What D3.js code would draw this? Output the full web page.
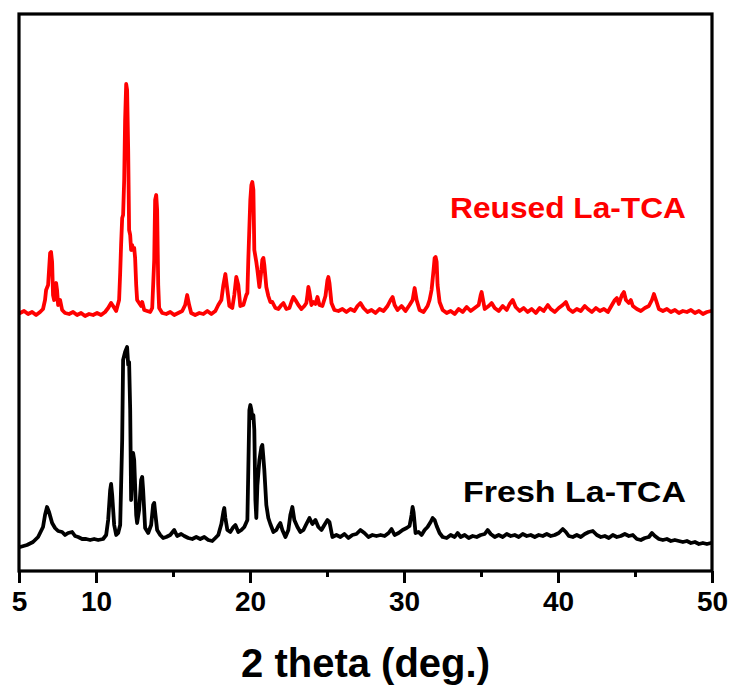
<!DOCTYPE html>
<html>
<head>
<meta charset="utf-8">
<script src="https://cdn.jsdelivr.net/npm/d3@7"></script>
<style>
  html, body { margin: 0; padding: 0; background: #fff; }
  svg { display: block; }
  text { font-family: "Liberation Sans", Arial, Helvetica, sans-serif; font-weight: bold; }
</style>
</head>
<body>
<script>
// Powder XRD patterns, [2θ (deg), intensity (a.u.)]
const freshPattern = [
  [5.07,24],[5.52,26],[5.91,29],[6.24,34],[6.56,44],[6.69,56],[6.82,64],[6.95,59],[7.15,48],[7.34,43],
  [7.54,40],[7.80,39],[7.99,36],[8.19,38],[8.45,39],[8.64,35],[8.84,34],[9.10,32],[9.36,32],[9.62,31],
  [9.88,32],[10.14,31],[10.46,32],[10.66,36],[10.79,51],[10.92,81],[10.98,87],[11.05,76],[11.18,46],[11.31,36],
  [11.44,38],[11.57,46],[11.70,131],[11.76,211],[11.89,219],[12.02,224],[12.09,206],[12.15,209],[12.22,161],[12.28,71],
  [12.35,101],[12.41,118],[12.48,111],[12.61,56],[12.67,48],[12.80,61],[12.93,91],[13.00,94],[13.06,81],[13.19,43],
  [13.39,38],[13.58,46],[13.71,66],[13.78,68],[13.84,59],[13.97,41],[14.17,36],[14.36,33],[14.56,34],[14.82,36],
  [15.08,41],[15.27,35],[15.53,37],[15.73,35],[15.99,33],[16.25,32],[16.51,34],[16.77,32],[17.03,34],[17.29,31],
  [17.55,30],[17.75,33],[17.94,36],[18.14,47],[18.27,59],[18.33,63],[18.40,53],[18.53,41],[18.72,39],[18.92,44],
  [19.05,46],[19.24,39],[19.44,41],[19.63,44],[19.83,51],[19.89,101],[19.96,161],[20.02,166],[20.09,161],[20.15,153],
  [20.22,156],[20.28,141],[20.35,71],[20.41,53],[20.48,86],[20.61,111],[20.74,124],[20.80,126],[20.87,113],[20.93,101],
  [21.06,66],[21.19,53],[21.32,47],[21.52,39],[21.71,41],[21.84,45],[21.97,48],[22.10,41],[22.30,34],[22.49,41],
  [22.62,56],[22.75,64],[22.88,51],[23.08,44],[23.27,39],[23.47,41],[23.66,47],[23.86,53],[24.05,47],[24.25,51],
  [24.44,44],[24.64,41],[24.83,46],[25.03,51],[25.16,49],[25.35,34],[25.61,36],[25.87,34],[26.13,37],[26.39,33],
  [26.65,36],[26.91,37],[27.17,41],[27.43,38],[27.69,34],[27.95,36],[28.21,35],[28.48,36],[28.74,35],[29.00,38],
  [29.19,42],[29.39,36],[29.65,38],[29.91,41],[30.17,43],[30.36,45],[30.49,56],[30.56,64],[30.62,59],[30.75,38],
  [30.95,39],[31.14,36],[31.34,41],[31.53,44],[31.73,49],[31.86,53],[31.99,51],[32.12,45],[32.31,38],[32.51,34],
  [32.77,33],[33.03,36],[33.29,34],[33.48,38],[33.68,34],[33.94,36],[34.20,33],[34.46,35],[34.72,34],[34.98,36],
  [35.24,37],[35.43,41],[35.63,37],[35.89,34],[36.15,36],[36.41,34],[36.67,37],[36.93,35],[37.19,36],[37.45,34],
  [37.71,37],[37.97,35],[38.23,36],[38.49,34],[38.75,36],[39.01,35],[39.27,37],[39.53,35],[39.79,36],[40.05,38],
  [40.31,42],[40.51,39],[40.70,35],[40.96,34],[41.22,36],[41.48,34],[41.74,37],[42.00,39],[42.26,40],[42.52,36],
  [42.78,34],[43.04,35],[43.30,33],[43.56,36],[43.82,34],[44.08,35],[44.34,37],[44.60,35],[44.86,36],[45.12,32],
  [45.38,31],[45.64,33],[45.90,34],[46.10,38],[46.29,35],[46.55,32],[46.81,31],[47.07,32],[47.33,30],[47.59,31],
  [47.85,30],[48.11,29],[48.37,30],[48.63,28],[48.89,29],[49.15,27],[49.41,28],[49.67,27],[49.93,28]
];

const reusedPattern = [
  [5.07,28],[5.33,30],[5.59,27],[5.85,29],[6.11,26],[6.37,29],[6.56,32],[6.69,41],[6.76,51],[6.89,56],
  [7.02,88],[7.08,89],[7.15,79],[7.21,46],[7.28,41],[7.34,53],[7.41,58],[7.47,51],[7.54,36],[7.67,41],
  [7.80,31],[7.99,28],[8.25,27],[8.51,29],[8.77,26],[9.03,28],[9.29,25],[9.55,27],[9.81,26],[10.07,28],
  [10.33,26],[10.59,29],[10.79,33],[10.98,38],[11.11,35],[11.31,30],[11.50,41],[11.57,68],[11.63,96],[11.70,123],
  [11.76,126],[11.83,161],[11.89,221],[11.96,257],[12.02,251],[12.09,191],[12.15,111],[12.22,106],[12.28,91],[12.35,96],
  [12.41,91],[12.48,93],[12.54,83],[12.61,56],[12.67,41],[12.80,38],[12.93,35],[13.00,39],[13.13,31],[13.32,30],
  [13.52,29],[13.65,33],[13.78,81],[13.84,141],[13.91,146],[13.97,131],[14.04,56],[14.10,33],[14.30,28],[14.56,27],
  [14.82,29],[15.08,26],[15.34,28],[15.60,30],[15.79,36],[15.92,46],[16.05,36],[16.18,28],[16.44,26],[16.71,28],
  [16.97,27],[17.23,30],[17.49,27],[17.75,30],[17.94,36],[18.14,41],[18.27,56],[18.40,67],[18.53,51],[18.66,35],
  [18.85,33],[18.98,46],[19.11,64],[19.24,56],[19.37,35],[19.57,36],[19.76,46],[19.83,48],[19.89,81],[19.96,114],
  [20.02,141],[20.09,156],[20.15,159],[20.22,151],[20.28,91],[20.41,79],[20.48,71],[20.61,54],[20.74,71],[20.80,81],
  [20.87,83],[20.93,76],[21.06,54],[21.19,45],[21.32,39],[21.45,39],[21.65,33],[21.84,32],[22.04,36],[22.17,38],
  [22.36,32],[22.56,33],[22.69,39],[22.82,44],[22.95,41],[23.14,36],[23.34,32],[23.53,35],[23.66,38],[23.73,46],
  [23.79,54],[23.86,49],[23.99,36],[24.12,39],[24.25,37],[24.38,44],[24.51,36],[24.70,35],[24.90,45],[25.03,61],
  [25.09,64],[25.16,58],[25.29,38],[25.48,31],[25.74,30],[26.00,32],[26.26,29],[26.52,32],[26.78,30],[26.98,35],
  [27.17,38],[27.37,33],[27.63,29],[27.89,31],[28.15,28],[28.41,32],[28.67,30],[28.93,35],[29.13,41],[29.26,44],
  [29.39,36],[29.58,31],[29.84,35],[30.10,30],[30.36,36],[30.56,41],[30.69,53],[30.82,41],[31.01,31],[31.27,29],
  [31.53,35],[31.66,41],[31.79,51],[31.92,71],[31.99,83],[32.05,84],[32.12,79],[32.18,56],[32.31,39],[32.51,31],
  [32.77,28],[33.03,30],[33.29,27],[33.55,32],[33.81,29],[34.07,34],[34.33,30],[34.59,33],[34.85,36],[34.98,46],
  [35.04,49],[35.11,43],[35.24,32],[35.50,35],[35.69,38],[35.89,33],[36.15,30],[36.41,35],[36.67,31],[36.86,37],
  [37.06,41],[37.25,34],[37.51,30],[37.77,33],[38.03,29],[38.29,32],[38.56,28],[38.81,33],[39.07,30],[39.34,36],
  [39.53,32],[39.79,29],[40.05,33],[40.31,36],[40.51,39],[40.70,32],[40.96,29],[41.22,32],[41.48,30],[41.74,35],
  [41.94,32],[42.20,29],[42.46,33],[42.72,30],[42.98,32],[43.24,29],[43.50,36],[43.69,41],[43.82,43],[43.95,37],
  [44.15,46],[44.28,49],[44.41,41],[44.60,38],[44.73,41],[44.86,35],[45.12,32],[45.38,30],[45.64,33],[45.90,35],
  [46.10,41],[46.23,47],[46.36,41],[46.55,32],[46.81,30],[47.07,32],[47.33,29],[47.59,31],[47.85,28],[48.11,30],
  [48.37,29],[48.63,31],[48.89,28],[49.15,30],[49.41,27],[49.67,29],[49.93,30]
];

// vertical stacking offset for the upper pattern (a.u.)
const reusedOffset = 230;

const majorTicks = [5, 10, 20, 30, 40, 50];
const minorTicks = [15, 25, 35, 45];

const seriesNames = ["Fresh La-TCA", "Reused La-TCA"];
const seriesColors = ["#000000", "#ff0000"];

const xLabel = "2 theta (deg.)";

const W = 730, H = 687;
const margin = { left: 19, right: 18, top: 14, bottom: 116 };

const svg = d3.select("body").append("svg")
  .attr("width", W).attr("height", H);

const x = d3.scaleLinear().domain([5, 50]).range([margin.left, W - margin.right]);
const y = d3.scaleLinear().domain([0, 557]).range([H - margin.bottom, margin.top]);

const line = d3.line()
  .x(d => x(d[0]))
  .y(d => y(d[1]))
  .curve(d3.curveLinear);

const plot = svg.append("g");

// lower trace
plot.append("path")
  .datum(freshPattern)
  .attr("fill", "none")
  .attr("stroke", seriesColors[0])
  .attr("stroke-width", 3.8)
  .attr("stroke-linejoin", "round")
  .attr("stroke-linecap", "round")
  .attr("d", line);

// upper trace, shifted up
plot.append("path")
  .datum(reusedPattern.map(d => [d[0], d[1] + reusedOffset]))
  .attr("fill", "none")
  .attr("stroke", seriesColors[1])
  .attr("stroke-width", 3.8)
  .attr("stroke-linejoin", "round")
  .attr("stroke-linecap", "round")
  .attr("d", line);

// frame
svg.append("rect")
  .attr("x", x(5)).attr("y", y(557))
  .attr("width", x(50) - x(5)).attr("height", y(0) - y(557))
  .attr("fill", "none").attr("stroke", "#000").attr("stroke-width", 3.2);

// bottom axis: major ticks with labels
const axisMajor = svg.append("g")
  .attr("transform", `translate(0,${y(0)})`)
  .call(d3.axisBottom(x).tickValues(majorTicks).tickSize(12).tickPadding(6).tickFormat(d3.format("d")));
axisMajor.select(".domain").remove();
axisMajor.selectAll(".tick line").attr("stroke", "#000").attr("stroke-width", 3);
axisMajor.selectAll(".tick text")
  .attr("fill", "#000")
  .attr("dy", null)
  .attr("y", 40)
  .style("font-size", "28px")
  .style("font-family", "'Liberation Sans', Arial, sans-serif")
  .style("font-weight", "bold");

// minor ticks
const axisMinor = svg.append("g")
  .attr("transform", `translate(0,${y(0)})`)
  .call(d3.axisBottom(x).tickValues(minorTicks).tickSize(6).tickFormat(""));
axisMinor.select(".domain").remove();
axisMinor.selectAll(".tick line").attr("stroke", "#000").attr("stroke-width", 3);

// axis title
svg.append("text")
  .attr("x", (x(5) + x(50)) / 2)
  .attr("y", 677)
  .attr("text-anchor", "middle")
  .attr("fill", "#000")
  .style("font-size", "40px")
  .text(xLabel);

// series labels
svg.append("text")
  .attr("x", 686).attr("y", 218)
  .attr("text-anchor", "end")
  .attr("fill", seriesColors[1])
  .style("font-size", "30px")
  .attr("textLength", 236).attr("lengthAdjust", "spacingAndGlyphs")
  .text(seriesNames[1]);

svg.append("text")
  .attr("x", 686).attr("y", 502)
  .attr("text-anchor", "end")
  .attr("fill", seriesColors[0])
  .style("font-size", "30px")
  .attr("textLength", 223).attr("lengthAdjust", "spacingAndGlyphs")
  .text(seriesNames[0]);
</script>
</body>
</html>
